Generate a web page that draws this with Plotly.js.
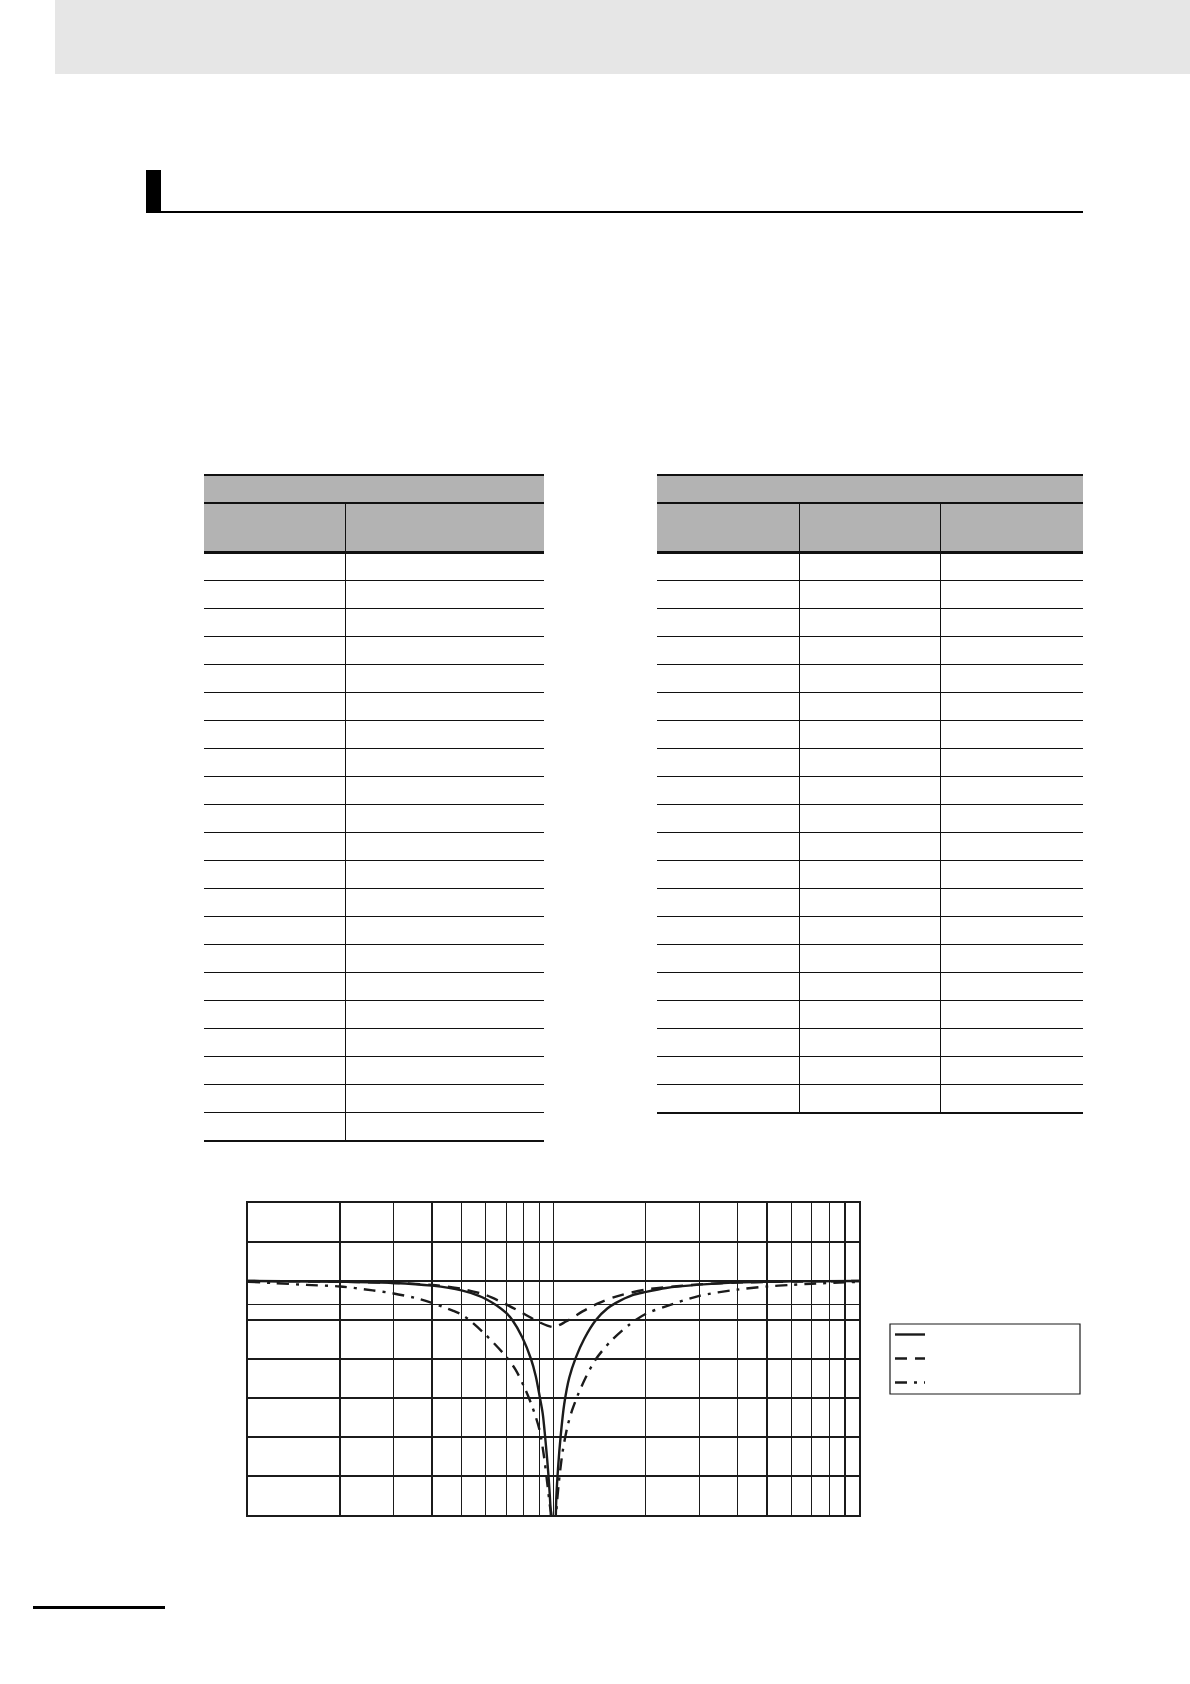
<!DOCTYPE html>
<html>
<head>
<meta charset="utf-8">
<script src="https://cdn.plot.ly/plotly-3.0.1.min.js"></script>
<style>
  html,body{margin:0;padding:0;background:#fff;}
  #page{position:relative;width:1190px;height:1684px;overflow:hidden;background:#fff;}
  .r{position:absolute;background:#111;}
  #chart{position:absolute;left:198px;top:1180px;width:900px;height:360px;}
</style>
</head>
<body>
<div id="page">
  <div id="chart"></div>
</div>
<script>
// notch response: frequency (Hz) vs gain (dB)
const FREQ_SOLID=[100,200,300,400,500,570,600,650,700,733,790,844,875,903,922,939,963,980,1000,
  1021,1037,1056,1084,1126,1184,1261,1377,1503,1601,1815,2007,2334,3000,4000,6000,10000];
const DB_SOLID=[0,-0.1,-0.25,-0.6,-1.2,-1.9,-2.3,-3.1,-4.1,-5.0,-7.2,-10,-12.2,-15,-17,-20,-25,-30,-45,
  -28,-23.5,-19.8,-15.8,-12.4,-9.8,-7.4,-5.0,-3.5,-2.8,-1.8,-1.4,-0.9,-0.47,-0.17,-0.05,0];

const FREQ_DASH=[100,200,300,400,500,600,700,800,900,1000,1098,1245,1412,1601,2007,2647,3000,4000,6000,10000];
const DB_DASH=[0,-0.1,-0.25,-0.5,-1.0,-1.8,-3.0,-4.2,-5.3,-5.9,-5.2,-3.9,-2.8,-2.0,-1.1,-0.6,-0.43,-0.2,-0.08,0];

const FREQ_DOT=[100,120,155,200,256,300,364,400,468,500,530,600,700,752,800,852,900,931,954,974,985,1000,
  1020,1040,1070,1110,1150,1199,1277,1377,1541,1770,2007,2334,3000,4000,5000,6000,7000,9000,10000];
const DB_DOT=[-0.1,-0.25,-0.5,-0.7,-1.2,-1.6,-2.3,-2.8,-3.8,-4.3,-5.0,-6.9,-9.7,-11.4,-13.5,-16.1,-19.1,-22.5,-25.9,-28.9,-30,-45,
  -30,-26,-22,-18.7,-16.6,-14.7,-12.3,-10,-7.7,-5.6,-4.2,-3.25,-1.9,-1.1,-0.7,-0.5,-0.35,-0.17,-0.1];

// grid positions (the reference prints no tick labels)
const X_GRID=[100,200,300,400,500,600,700,800,900,1000,2000,3000,4000,5000,6000,7000,8000,9000,10000];
const Y_GRID=[10,5,0,-3,-5,-10,-15,-20,-25,-30];

// page furniture: header band, section heading, two empty tables, footer rule
const page=document.getElementById("page");
function box(x,y,w,h,col){
  const d=document.createElement("div"); d.className="r";
  d.style.cssText=`left:${x}px;top:${y}px;width:${w}px;height:${h}px;`+(col?`background:${col};`:"");
  page.appendChild(d);
}
box(55,0,1135,73.5,"#e6e6e6");
box(146,170,15,42,"#000");
box(146,210.5,937,2,"#000");
box(33,1606,132,2.5,"#000");

function table(x0,x1,cols,rows){
  const top=474, hdr=552, rh=28;
  box(x0,top+1,x1-x0,hdr-top,"#b3b3b3");
  box(x0,top,x1-x0,2);
  box(x0,502,x1-x0,2);
  box(x0,hdr-1,x1-x0,2.5);
  for(let k=1;k<rows;k++) box(x0,hdr+rh*k,x1-x0,1.2);
  const bot=hdr+rh*rows;
  box(x0,bot-0.5,x1-x0,2.8);
  cols.forEach(cx=>box(cx,503,1.4,bot-503));
}
table(204,544,[345],21);
table(657,1083,[799,940],20);

const INK="#1b1b1b";
const traces=[
  {x:FREQ_SOLID,y:DB_SOLID,mode:"lines",name:"\u00a0",legendgroup:"a",
   line:{color:INK,width:2.4,shape:"spline",smoothing:0.8}},
  {x:FREQ_DASH,y:DB_DASH,mode:"lines",name:"\u00a0",legendgroup:"b",
   line:{color:INK,width:2.4,dash:"12px,8px",shape:"spline",smoothing:0.8}},
  {x:FREQ_DOT,y:DB_DOT,mode:"lines",name:"\u00a0",legendgroup:"c",
   line:{color:INK,width:2.4,dash:"12px,7px,3px,7px",shape:"spline",smoothing:0.8}}
];
const ax={showticklabels:false,ticks:"",showgrid:true,gridcolor:INK,gridwidth:1.2,
  showline:true,mirror:true,linecolor:INK,linewidth:2,zeroline:false,fixedrange:true};
// legend frame in plot-fraction units (plot area is 611 x 312 px)
const LEG={x0:(890-248)/611,x1:(1080-248)/611,y0:(1515-1394)/312,y1:(1515-1324)/312};
Plotly.newPlot("chart",traces,{
  width:900,height:360,margin:{l:50,r:239,t:23,b:25},
  paper_bgcolor:"rgba(0,0,0,0)",plot_bgcolor:"#fff",
  font:{family:"Liberation Sans, Arial, sans-serif",size:12,color:"#111"},
  showlegend:true,
  legend:{x:LEG.x0,xanchor:"left",y:(1515-1320)/312,yanchor:"top",font:{size:10},
    borderwidth:0,bgcolor:"rgba(0,0,0,0)",tracegroupgap:5,traceorder:"grouped"},
  shapes:[{type:"rect",xref:"paper",yref:"paper",x0:LEG.x0,x1:LEG.x1,y0:LEG.y0,y1:LEG.y1,
    line:{color:INK,width:1.2},fillcolor:"rgba(0,0,0,0)"}],
  xaxis:Object.assign({type:"log",range:[2,4],tickvals:X_GRID},ax),
  yaxis:Object.assign({range:[-30,10],tickvals:Y_GRID},ax)
},{displayModeBar:false,staticPlot:true});
</script>
</body>
</html>
